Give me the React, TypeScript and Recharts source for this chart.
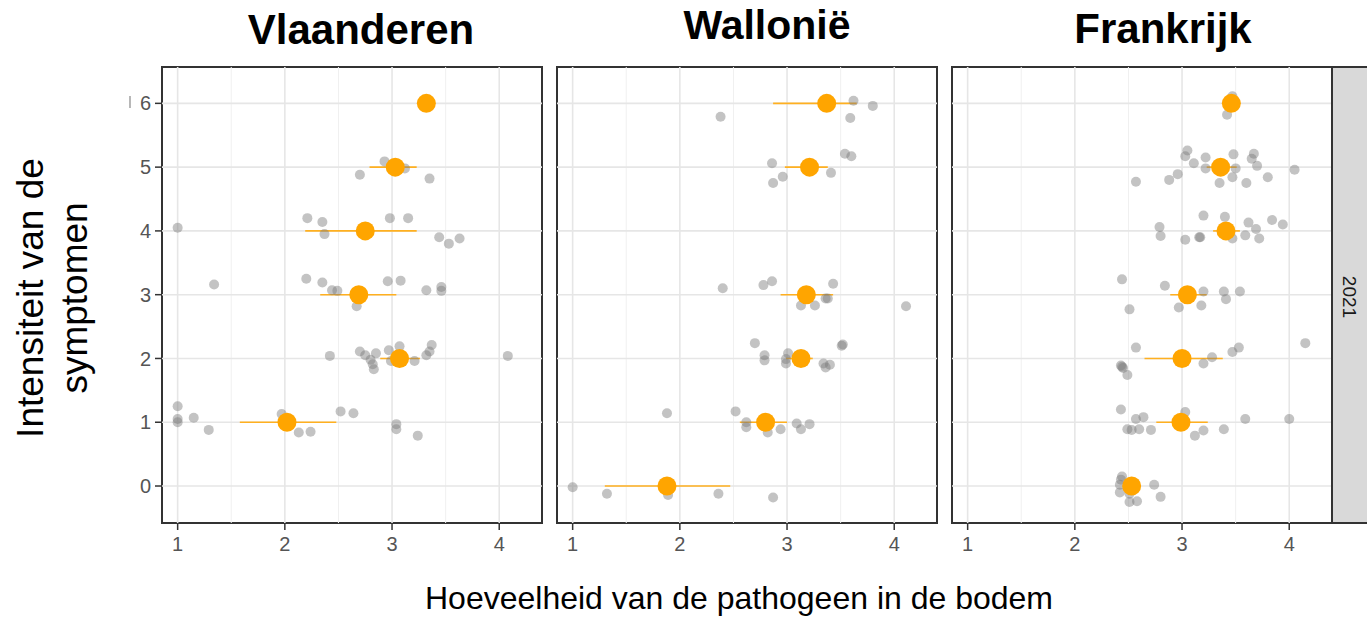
import React from 'react';
import { ScatterChart, Scatter, XAxis, YAxis, ReferenceLine, ReferenceArea, ErrorBar } from 'recharts';

const FONT = 'Liberation Sans, Arial, Helvetica, sans-serif';

// ---- axis / tick definitions ----
const xTicks = [1, 2, 3, 4];
const xMinorTicks = [1.5, 2.5, 3.5];
const yTicks = [0, 1, 2, 3, 4, 5, 6];
const X_DOMAIN: [number, number] = [0.854, 4.399];
const Y_DOMAIN: [number, number] = [-0.58, 6.57];

const regionTitles = ['Vlaanderen', 'Wallonië', 'Frankrijk'];
const yearLabel = '2021';
const xAxisTitle = 'Hoeveelheid van de pathogeen in de bodem';
const yAxisTitleLines = ['Intensiteit van de', 'symptomen'];

// ---- individual observations (pathogen amount, symptom intensity + jitter) ----
const vlaanderenPoints: [number, number][] = [
  [3.32, 6.0],
  [2.93, 5.09], [3.12, 4.98], [2.70, 4.88], [3.35, 4.82],
  [1.0, 4.05], [2.21, 4.2], [2.35, 4.14], [2.37, 3.95], [2.98, 4.2], [3.15, 4.2], [3.44, 3.9], [3.53, 3.8], [3.63, 3.88],
  [1.34, 3.16], [2.2, 3.25], [2.35, 3.19], [2.44, 3.07], [2.49, 3.06], [2.67, 2.82], [2.96, 3.21], [3.08, 3.22], [3.32, 3.07], [3.46, 3.12], [3.46, 3.06],
  [2.42, 2.04], [2.7, 2.11], [2.75, 2.05], [2.8, 1.98], [2.85, 2.08], [2.82, 1.91], [2.83, 1.83], [2.97, 2.13], [2.99, 1.96], [3.07, 2.19], [3.21, 1.96], [3.32, 2.05], [3.35, 2.11], [3.37, 2.21], [4.08, 2.04],
  [1.0, 1.25], [1.0, 1.05], [1.0, 1.0], [1.15, 1.07], [1.29, 0.88], [1.97, 1.13], [2.13, 0.84], [2.24, 0.85], [2.52, 1.17], [2.64, 1.14], [3.04, 0.97], [3.04, 0.89], [3.24, 0.79],
];

const walloniePoints: [number, number][] = [
  [3.62, 6.04], [3.8, 5.96], [2.38, 5.79], [3.59, 5.77],
  [3.54, 5.21], [3.6, 5.17], [2.86, 5.06], [3.41, 4.91], [2.96, 4.85], [2.87, 4.75],
  [2.4, 3.1], [2.78, 3.15], [2.86, 3.21], [3.43, 3.17], [3.13, 2.83], [3.26, 2.83], [3.36, 2.94], [3.38, 2.94], [4.11, 2.82],
  [2.7, 2.24], [2.79, 2.05], [2.79, 1.97], [2.99, 1.99], [3.01, 2.08], [2.99, 1.92], [3.52, 2.22], [3.51, 2.2], [3.34, 1.92], [3.36, 1.86], [3.4, 1.9],
  [1.88, 1.14], [2.52, 1.17], [2.62, 1.0], [2.62, 0.92], [2.82, 0.84], [2.94, 0.89], [3.09, 0.98], [3.13, 0.89], [3.21, 0.97],
  [1.0, -0.02], [1.32, -0.12], [2.36, -0.12], [2.87, -0.18], [1.89, -0.14],
];

const frankrijkPoints: [number, number][] = [
  [3.47, 6.11], [3.42, 5.82], [3.46, 6.0],
  [3.05, 5.26], [3.03, 5.17], [3.11, 5.06], [3.22, 5.15], [3.22, 4.98], [3.48, 5.2], [3.67, 5.21], [3.65, 5.13], [3.7, 5.02], [3.5, 4.98], [3.47, 4.84], [3.35, 4.75], [3.6, 4.75], [3.8, 4.84], [4.05, 4.96], [2.96, 4.89], [2.88, 4.8], [2.57, 4.77],
  [2.79, 4.06], [2.8, 3.92], [3.03, 3.86], [3.17, 3.9], [3.2, 4.24], [3.4, 4.22], [3.47, 3.88], [3.59, 3.93], [3.62, 4.13], [3.69, 4.03], [3.72, 3.88], [3.84, 4.17], [3.94, 4.1], [3.16, 3.9],
  [2.44, 3.24], [2.51, 2.77], [2.84, 3.14], [2.97, 2.8], [3.2, 3.05], [3.18, 2.83], [3.39, 3.05], [3.41, 2.93], [3.54, 3.05],
  [2.57, 2.17], [2.43, 1.89], [2.45, 1.85], [2.49, 1.74], [3.2, 1.92], [3.28, 2.02], [3.47, 2.1], [3.53, 2.17], [4.15, 2.24], [2.44, 1.87],
  [2.43, 1.2], [2.57, 1.05], [2.64, 1.08], [2.49, 0.89], [2.6, 0.89], [2.71, 0.88], [3.03, 1.16], [3.12, 0.79], [3.2, 0.87], [3.39, 0.89], [3.59, 1.05], [4.0, 1.05], [2.53, 0.88],
  [2.44, 0.15], [2.42, 0.02], [2.42, -0.1], [2.51, -0.25], [2.58, -0.24], [2.74, 0.02], [2.8, -0.17], [2.51, -0.12], [2.43, 0.1],
];

// ---- means with interval: [intensity, mean, low, high] ----
const vlaanderenMeans: [number, number, number, number][] = [
  [6, 3.32, 3.32, 3.32], [5, 3.03, 2.79, 3.23], [4, 2.75, 2.19, 3.23],
  [3, 2.69, 2.33, 3.04], [2, 3.07, 2.89, 3.26], [1, 2.02, 1.58, 2.48],
];
const wallonieMeans: [number, number, number, number][] = [
  [6, 3.37, 2.87, 3.65], [5, 3.21, 2.98, 3.38], [3, 3.18, 2.94, 3.43],
  [2, 3.13, 2.99, 3.24], [1, 2.8, 2.56, 3.0], [0, 1.88, 1.3, 2.47],
];
const frankrijkMeans: [number, number, number, number][] = [
  [6, 3.46, 3.4, 3.5], [5, 3.36, 3.23, 3.51], [4, 3.41, 3.29, 3.54],
  [3, 3.05, 2.89, 3.23], [2, 3.0, 2.65, 3.38], [1, 2.99, 2.76, 3.24], [0, 2.53, 2.46, 2.58],
];

const toPoints = (arr: [number, number][]) => arr.map(([x, y]) => ({ x, y }));
const toMeans = (arr: [number, number, number, number][]) =>
  arr.map(([y, m, lo, hi]) => ({ x: m, y, err: [m - lo, hi - m] }));

const panels = [
  { title: regionTitles[0], points: toPoints(vlaanderenPoints), means: toMeans(vlaanderenMeans) },
  { title: regionTitles[1], points: toPoints(walloniePoints), means: toMeans(wallonieMeans) },
  { title: regionTitles[2], points: toPoints(frankrijkPoints), means: toMeans(frankrijkMeans) },
];

const GreyDot = (props: any) => (
  <circle cx={props.cx} cy={props.cy} r={5} fill="#7a7a7a" fillOpacity={0.45} />
);
const MeanDot = (props: any) => (
  <circle cx={props.cx} cy={props.cy} r={9.5} fill="#FFA500" />
);

const PLOT_W = 380;
const PLOT_H = 456;
const TOP = 10;
const XAXIS_H = 45;
const Y_AXIS_W = 50;
const TICK_STYLE = { fill: '#555555', fontSize: 20, fontFamily: FONT };

function Panel({ idx, left }: { idx: number; left: number }) {
  const p = panels[idx];
  const first = idx === 0;
  const marginLeft = first ? 0 : 5;
  const width = (first ? Y_AXIS_W : marginLeft) + PLOT_W + 5;
  return (
    <div style={{ position: 'absolute', left, top: 67 - TOP }}>
      <ScatterChart
        width={width}
        height={TOP + PLOT_H + XAXIS_H}
        margin={{ top: TOP, right: 5, bottom: 0, left: marginLeft }}
      >
        <XAxis
          type="number"
          dataKey="x"
          domain={X_DOMAIN}
          ticks={xTicks}
          allowDataOverflow
          height={XAXIS_H}
          axisLine={false}
          tickSize={7}
          tickMargin={7}
          fontSize={20}
          tickLine={{ stroke: '#333', strokeWidth: 1.5 }}
          tick={TICK_STYLE}
        />
        <YAxis
          type="number"
          dataKey="y"
          domain={Y_DOMAIN}
          ticks={yTicks}
          allowDataOverflow
          hide={!first}
          width={Y_AXIS_W}
          axisLine={false}
          tickSize={7}
          tickMargin={4}
          fontSize={20}
          tickLine={{ stroke: '#333', strokeWidth: 1.5 }}
          tick={TICK_STYLE}
        />
        {xMinorTicks.map((v) => (
          <ReferenceLine key={'xm' + v} x={v} stroke="#F0F0F0" strokeWidth={1} />
        ))}
        {xTicks.map((v) => (
          <ReferenceLine key={'x' + v} x={v} stroke="#E6E6E6" strokeWidth={1.6} />
        ))}
        {yTicks.map((v) => (
          <ReferenceLine key={'y' + v} y={v} stroke="#E6E6E6" strokeWidth={1.6} />
        ))}
        <ReferenceArea
          x1={X_DOMAIN[0]}
          x2={X_DOMAIN[1]}
          y1={Y_DOMAIN[0]}
          y2={Y_DOMAIN[1]}
          fill="none"
          fillOpacity={0}
          stroke="#333"
          strokeWidth={2}
          ifOverflow="visible"
        />
        <Scatter data={p.points} isAnimationActive={false} shape={GreyDot} />
        <Scatter data={p.means} isAnimationActive={false} shape={MeanDot}>
          <ErrorBar dataKey="err" direction="x" width={0} stroke="#FFB020" strokeWidth={1.6} />
        </Scatter>
      </ScatterChart>
    </div>
  );
}

export default function App() {
  return (
    <div
      style={{
        position: 'absolute',
        left: 0,
        top: 0,
        width: 1367,
        height: 617,
        background: '#fff',
        overflow: 'hidden',
        fontFamily: FONT,
      }}
    >
      <Panel idx={0} left={162 - Y_AXIS_W} />
      <Panel idx={1} left={557 - 5} />
      <Panel idx={2} left={952 - 5} />
      <svg
        width={1367}
        height={617}
        style={{ position: 'absolute', left: 0, top: 0, pointerEvents: 'none' }}
      >
        <text x={361} y={44} textAnchor="middle" fontSize={42} fontWeight="bold" fontFamily={FONT} fill="#000">
          {panels[0].title}
        </text>
        <text x={767} y={39} textAnchor="middle" fontSize={41} fontWeight="bold" fontFamily={FONT} fill="#000">
          {panels[1].title}
        </text>
        <text x={1163} y={43} textAnchor="middle" fontSize={42} fontWeight="bold" fontFamily={FONT} fill="#000">
          {panels[2].title}
        </text>
        <rect x={1332} y={67} width={45} height={456} fill="#D9D9D9" stroke="#333" strokeWidth={2} />
        <text
          x={1343}
          y={297}
          transform="rotate(90 1343 297)"
          textAnchor="middle"
          fontSize={19}
          fontFamily={FONT}
          fill="#1A1A1A"
        >
          {yearLabel}
        </text>
        <text x={739} y={609} textAnchor="middle" fontSize={32} fontFamily={FONT} fill="#000">
          {xAxisTitle}
        </text>
        <text x={43} y={298} transform="rotate(-90 43 298)" textAnchor="middle" fontSize={37} fontFamily={FONT} fill="#000">
          {yAxisTitleLines[0]}
        </text>
        <text x={87} y={298} transform="rotate(-90 87 298)" textAnchor="middle" fontSize={37} fontFamily={FONT} fill="#000">
          {yAxisTitleLines[1]}
        </text>
        <line x1={130} y1={96} x2={130} y2={108} stroke="#888" strokeWidth={1.2} />
      </svg>
    </div>
  );
}
